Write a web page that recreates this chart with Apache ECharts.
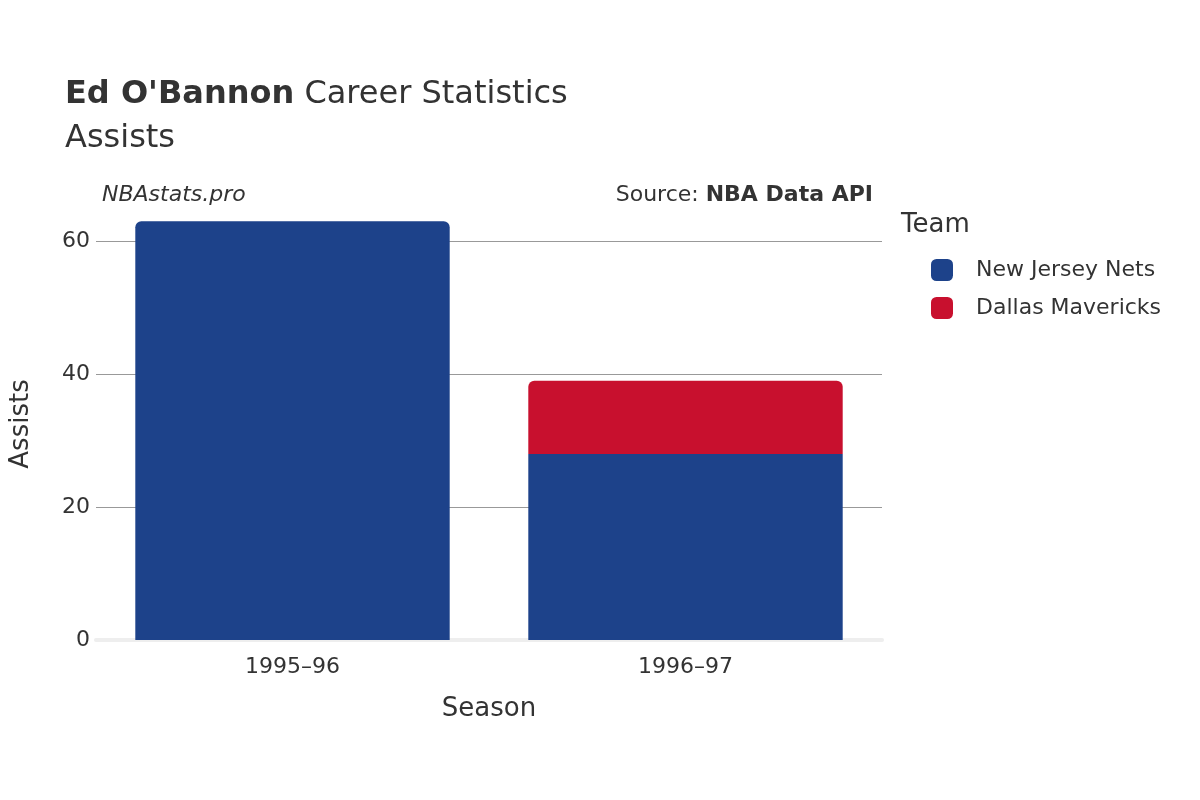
<!DOCTYPE html>
<html><head><meta charset="utf-8">
<script src="https://cdn.jsdelivr.net/npm/echarts@6/dist/echarts.min.js"></script>
<style>body{margin:0}#c{width:1200px;height:800px}</style></head>
<body><div id="c"></div>
<script>
const seasons = ['1995–96','1996–97'];
const njNets = [63, 28];
const dalMavs = [null, 11];
const yTicks = [20, 40, 60];
const F = 'DejaVu Sans';
const chart = echarts.init(document.getElementById('c'));
chart.setOption({
  backgroundColor:'#fff',
  textStyle:{fontFamily:F},
  title:[
    {text:"{b|Ed O'Bannon} Career Statistics\nAssists",left:60,top:68,textStyle:{fontFamily:F,fontSize:32,color:'#333',fontWeight:'normal',lineHeight:44,rich:{b:{fontFamily:F,fontSize:32,fontWeight:'bold',color:'#333'}}}},
    {text:'NBAstats.pro',left:97,top:179,textStyle:{fontFamily:F,fontSize:22,fontStyle:'italic',fontWeight:'normal',color:'#333'}},
    {text:'Source: {b|NBA Data API}',right:322,top:179,textStyle:{fontFamily:F,fontSize:22,fontWeight:'normal',color:'#333',rich:{b:{fontFamily:F,fontSize:22,fontWeight:'bold',color:'#333'}}}}
  ],
  legend:{orient:'vertical',left:926,top:254,itemWidth:22,itemHeight:22,itemGap:16,icon:'roundRect',
    textStyle:{fontFamily:F,fontSize:22,color:'#333',padding:[0,0,0,18]},data:['New Jersey Nets','Dallas Mavericks']},
  graphic:[{type:'text',left:901,top:212,style:{text:'Team',fontFamily:F,fontSize:26,fill:'#333'}}],
  grid:{left:93,right:318,top:208,bottom:160},
  xAxis:{type:'category',data:seasons,name:'Season',nameLocation:'middle',nameGap:56,
    nameTextStyle:{fontFamily:F,fontSize:26,color:'#333'},
    axisLine:{show:true,lineStyle:{color:'#eee',width:4}},axisTick:{show:false},
    axisLabel:{fontFamily:F,fontSize:22,color:'#333',margin:16}},
  yAxis:{type:'value',min:0,max:65,interval:20,name:'Assists',nameLocation:'middle',nameGap:62,
    nameTextStyle:{fontFamily:F,fontSize:26,color:'#333'},
    splitLine:{show:false},axisLine:{show:false},axisTick:{show:false},
    axisLabel:{fontFamily:F,fontSize:22,color:'#333',margin:6,showMaxLabel:false}},
  series:[
    {name:'New Jersey Nets',type:'bar',stack:'a',barWidth:'80%',data:njNets,
      itemStyle:{color:'#1d428a',borderRadius:[6,6,0,0]},z:3,
      markLine:{silent:true,symbol:'none',label:{show:false},lineStyle:{color:'#999',type:'solid',width:1},z:1,
        data:yTicks.map(v=>({yAxis:v}))}},
    {name:'Dallas Mavericks',type:'bar',stack:'a',barWidth:'80%',data:dalMavs,
      itemStyle:{color:'#c8102e',borderRadius:[6,6,0,0],borderColor:'#fff',borderWidth:0},z:3}
  ]
});
// NJ bar in 1996-97 not rounded since stacked under Dallas
chart.setOption({series:[{data:[{value:63},{value:28,itemStyle:{borderRadius:0}}]}]});
</script></body></html>
